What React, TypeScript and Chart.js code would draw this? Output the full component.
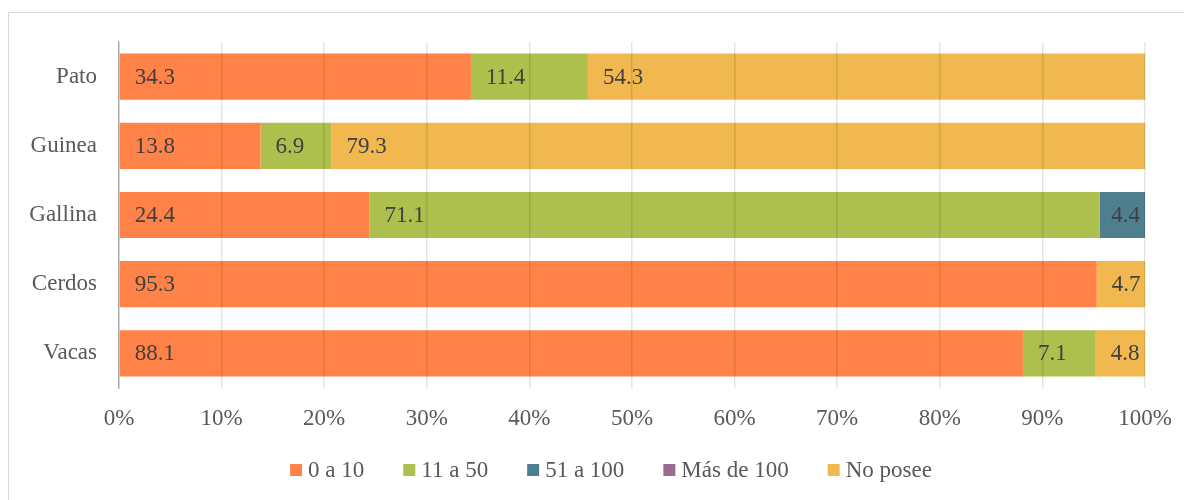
import React, { useEffect, useRef } from "react";
import { Chart, registerables } from "chart.js";

Chart.register(...registerables);

const categories = ["Pato", "Guinea", "Gallina", "Cerdos", "Vacas"];
const seriesNames = ["0 a 10", "11 a 50", "51 a 100", "Más de 100", "No posee"];
const s0a10 = [34.3, 13.8, 24.4, 95.3, 88.1];
const s11a50 = [11.4, 6.9, 71.1, null, 7.1];
const s51a100 = [null, null, 4.4, null, null];
const sMas100 = [null, null, null, null, null];
const sNoPosee = [54.3, 79.3, null, 4.7, 4.8];
const seriesColors = ["#FF8348", "#ADBF4D", "#4E7F8E", "#9A6B8E", "#F0B84F"];
const xTicks = [0, 10, 20, 30, 40, 50, 60, 70, 80, 90, 100];

const FONT = "'Liberation Serif', serif";
const FS = 23;

export default function App() {
  const ref = useRef<HTMLCanvasElement | null>(null);

  useEffect(() => {
    const raw = [s0a10, s11a50, s51a100, sMas100, sNoPosee];
    const totals = categories.map((_, i) =>
      raw.reduce((acc, s) => acc + (s[i] ?? 0), 0)
    );
    const datasets = raw.map((s, k) => ({
      label: seriesNames[k],
      data: s.map((v, i) => (v == null ? null : (v / totals[i]) * 100)),
      rawValues: s,
      backgroundColor: seriesColors[k],
      borderWidth: 0,
      barPercentage: 0.667,
      categoryPercentage: 1,
    }));

    const labelPlugin = {
      id: "segLabels",
      afterDatasetsDraw(chart: any) {
        const ctx = chart.ctx;
        ctx.save();
        ctx.font = `${FS}px ${FONT}`;
        ctx.fillStyle = "#404040";
        ctx.textBaseline = "middle";
        chart.data.datasets.forEach((ds: any, di: number) => {
          const meta = chart.getDatasetMeta(di);
          meta.data.forEach((el: any, i: number) => {
            const v = ds.rawValues[i];
            if (v == null) return;
            const txt = v.toFixed(1);
            const w = ctx.measureText(txt).width;
            const start = Math.min(el.base, el.x);
            const end = Math.max(el.base, el.x);
            const pad = 15;
            if (w + pad > end - start - 4) {
              ctx.textAlign = "right";
              ctx.fillText(txt, end - 5, el.y + 1);
            } else {
              ctx.textAlign = "left";
              ctx.fillText(txt, start + pad, el.y + 1);
            }
          });
        });
        ctx.restore();
      },
    };

    const legendPlugin = {
      id: "customLegend",
      afterDraw(chart: any) {
        const ctx = chart.ctx;
        ctx.save();
        ctx.font = `${FS}px ${FONT}`;
        ctx.textBaseline = "middle";
        ctx.textAlign = "left";
        const box = 12;
        const gap = 6;
        const spacing = 39;
        const items = chart.data.datasets.map((ds: any) => ({
          text: ds.label,
          color: ds.backgroundColor,
          w: box + gap + ctx.measureText(ds.label).width,
        }));
        const total =
          items.reduce((a: number, it: any) => a + it.w, 0) + spacing * (items.length - 1);
        let x = chart.width / 2 + 12 - total / 2;
        const y = chart.chartArea.bottom + 82;
        items.forEach((it: any) => {
          ctx.fillStyle = it.color;
          ctx.fillRect(x, y - box / 2, box, box);
          ctx.fillStyle = "#595959";
          ctx.fillText(it.text, x + box + gap, y + 1);
          x += it.w + spacing;
        });
        ctx.restore();
      },
    };

    const chart = new Chart(ref.current as HTMLCanvasElement, {
      type: "bar",
      data: { labels: categories, datasets: datasets as any },
      options: {
        indexAxis: "y",
        animation: false,
        responsive: false,
        maintainAspectRatio: false,
        layout: { padding: { top: 29, right: 44, left: 0, bottom: 67 } },
        scales: {
          x: {
            stacked: true,
            min: 0,
            max: 100,
            afterBuildTicks(scale: any) {
              scale.ticks = xTicks.map((v) => ({ value: v }));
            },
            afterFit(scale: any) {
              scale.height = 45;
            },
            ticks: {
              callback: (v: any) => `${v}%`,
              font: { family: FONT, size: FS },
              color: "#595959",
              padding: 17,
              maxRotation: 0,
            },
            grid: { color: "rgba(0,0,0,0.1)", drawTicks: false, z: 1, lineWidth: 1.5 },
            border: { display: false },
          },
          y: {
            stacked: true,
            afterFit(scale: any) {
              scale.width = 110;
            },
            ticks: {
              font: { family: FONT, size: FS },
              color: "#595959",
              padding: 14,
            },
            grid: { display: false },
            border: { display: true, color: "#bfbfbf", width: 1.5 },
          },
        },
        plugins: {
          legend: { display: false },
          tooltip: { enabled: false },
        },
      } as any,
      plugins: [labelPlugin, legendPlugin],
    });
    return () => chart.destroy();
  }, []);

  return (
    <div
      style={{
        marginTop: 4,
        width: 1180,
        height: 500,
        border: "1px solid #d9d9d9",
        background: "#fff",
      }}
    >
      <canvas ref={ref} width={1180} height={487} style={{ display: "block" }} />
    </div>
  );
}
